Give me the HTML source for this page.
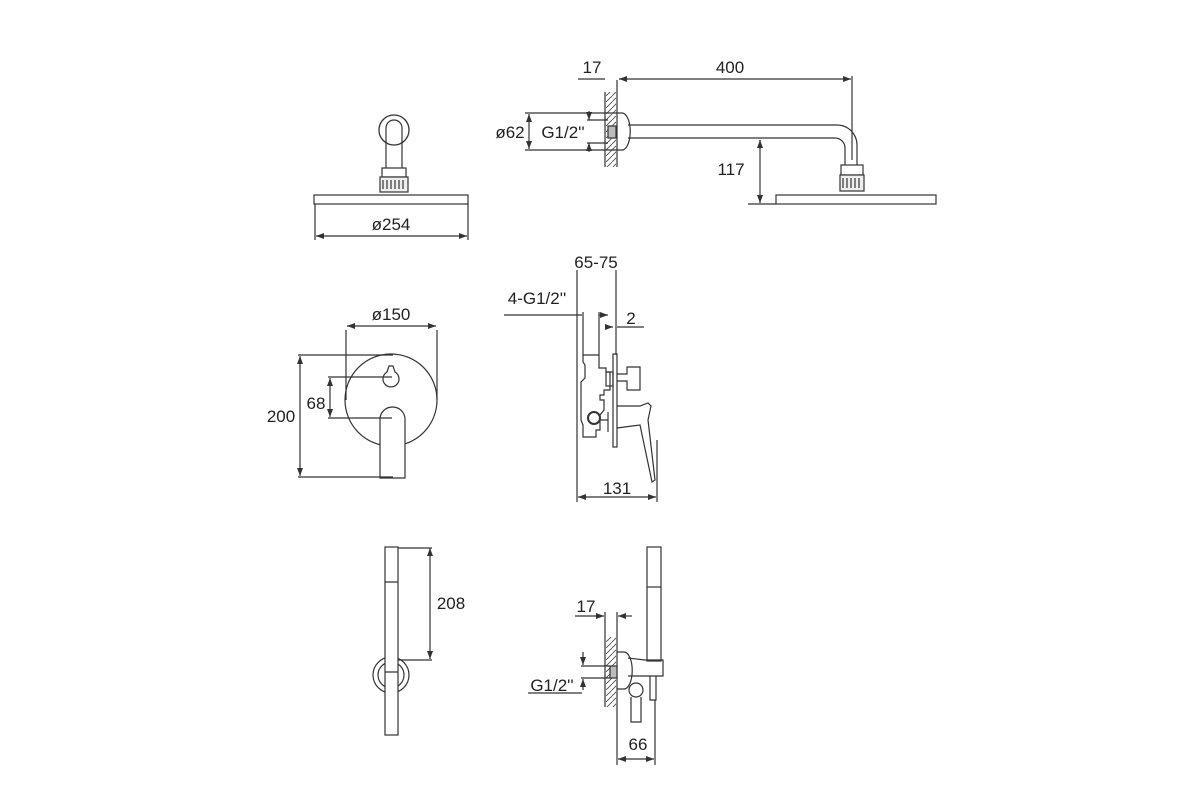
<!DOCTYPE html>
<html><head><meta charset="utf-8"><style>
html,body{margin:0;padding:0;background:#fff}
svg{display:block}
text{font-family:"Liberation Sans",sans-serif;font-size:17px;fill:#222}
</style></head><body>
<svg width="1200" height="800" viewBox="0 0 1200 800" xmlns="http://www.w3.org/2000/svg">
<defs>
<marker id="a" markerWidth="8" markerHeight="6" refX="8" refY="3" orient="auto-start-reverse" markerUnits="userSpaceOnUse"><path d="M0,0 L8,3 L0,6 z" fill="#333"/></marker>
<pattern id="h" width="6" height="6" patternUnits="userSpaceOnUse"><path d="M0,6 L6,0" stroke="#444" stroke-width="0.8"/></pattern>
</defs>
<g fill="none" stroke="#333" stroke-width="1.2">
<!-- top-left shower head -->
<circle cx="394" cy="130" r="15" stroke-width="1.3"/>
<path d="M386,168 V128 a8,8 0 0 1 16,0 V168"/>
<rect x="382" y="168" width="24" height="9"/>
<rect x="380" y="177" width="28" height="15" fill="#eee"/>
<path d="M383,180 v9 M387,180 v9 M391,180 v9 M395,180 v9 M399,180 v9 M403,180 v9"/>
<rect x="314" y="195" width="154" height="9"/>
<path d="M315,204 V240 M468,204 V240"/>
<line x1="316" y1="236" x2="467" y2="236" marker-start="url(#a)" marker-end="url(#a)"/>
<!-- top-right arm -->
<rect x="606" y="92" width="10" height="75" fill="url(#h)" stroke="none"/>
<path d="M617,80 V167 M605,92 V167"/>
<path d="M617,113 H622 a8,18 0 0 1 0,37 H617"/>
<path d="M628,125 H837 a20,20 0 0 1 20,20 V165 M628,138 H835 a10,10 0 0 1 10,10 V165"/>
<rect x="841" y="165" width="22" height="10"/>
<rect x="840" y="175" width="24" height="16" fill="#eee"/>
<path d="M843,178 v10 M847,178 v10 M851,178 v10 M855,178 v10 M859,178 v10"/>
<rect x="776" y="195" width="160" height="9"/>
<path d="M852,76 V160"/>
<line x1="578" y1="79" x2="605" y2="79"/>
<line x1="619" y1="79" x2="851" y2="79" marker-start="url(#a)" marker-end="url(#a)"/>
<line x1="760" y1="140" x2="760" y2="203" marker-start="url(#a)" marker-end="url(#a)"/>
<path d="M748,204 H776"/>
<rect x="608" y="126" width="8" height="12" fill="#bbb"/>
<path d="M525,113 H617 M525,150 H617 M587,120 H608 M587,143 H608"/>
<line x1="529" y1="114" x2="529" y2="149" marker-start="url(#a)" marker-end="url(#a)"/>
<line x1="589" y1="111" x2="589" y2="120" marker-end="url(#a)"/>
<line x1="589" y1="152" x2="589" y2="143" marker-end="url(#a)"/>
<!-- middle left valve -->
<circle cx="391" cy="400" r="46"/>
<path d="M387,372 a8,8 0 1 0 8,0 L393,366 L389,366 Z"/>
<path d="M380,478 V419 a12.5,12 0 0 1 25,0 V478 Z" fill="#fff"/>
<path d="M346,330 V400 M437,330 V400 M298,355 H393 M298,477 H393 M328,377 H392 M328,418 H392"/>
<line x1="347" y1="326" x2="436" y2="326" marker-start="url(#a)" marker-end="url(#a)"/>
<line x1="300" y1="356" x2="300" y2="476" marker-start="url(#a)" marker-end="url(#a)"/>
<line x1="330" y1="378" x2="330" y2="417" marker-start="url(#a)" marker-end="url(#a)"/>
<!-- middle right valve side -->
<path d="M577,270 V502 M616,270 V355 M657,440 V502 M583,312 V355 M599,312 V355"/>
<line x1="504" y1="315" x2="582" y2="315"/>
<line x1="599" y1="315" x2="608" y2="315" marker-end="url(#a)"/>
<line x1="606" y1="327" x2="613" y2="327" marker-end="url(#a)"/>
<line x1="617" y1="327" x2="644" y2="327"/>
<line x1="578" y1="497" x2="656" y2="497" marker-start="url(#a)" marker-end="url(#a)"/>
<path d="M583,355 H599 V368 H606 V372 H610 V390 H604 V395 H600 V400 H604 V410 L600,415 V430 H596 V437 H583 V425 L581,420 V382 L585,378 V365 L583,362 Z"/>
<rect x="613" y="354" width="4" height="93"/>
<rect x="606" y="372" width="7" height="14"/>
<path d="M617,374 H627 V367 H640 V390 H627 V381 H617"/>
<circle cx="594" cy="418" r="6" stroke-width="2"/>
<path d="M600,420 H608 M617,406 H640 L648,403 L651,406 L648,420 L655,480 L652,482 L640,425 L617,428"/>
<path d="M608,412 V432"/>
<!-- bottom left hand shower -->
<circle cx="391" cy="675" r="18"/>
<circle cx="391" cy="675" r="13"/>
<rect x="385" y="547" width="13" height="188" fill="#fff"/>
<path d="M385,582 H398 M385,672 H398"/>
<path d="M398,660 H432"/>
<line x1="430" y1="548" x2="430" y2="659" marker-start="url(#a)" marker-end="url(#a)"/>
<path d="M398,548 H432"/>
<!-- bottom right holder -->
<rect x="606" y="637" width="10" height="70" fill="url(#h)" stroke="none"/>
<path d="M605,612 V707 M617,612 V765 M655,700 V765"/>
<rect x="647" y="547" width="14" height="114"/>
<path d="M647,587 H661"/>
<path d="M617,652 H624 a8,18 0 0 1 0,37 H617"/>
<path d="M628,658 L645,660 H663 V676 H628"/>
<circle cx="636" cy="690" r="7"/>
<path d="M631,697 V722 H641 V697 M650,676 V700 H656 V676"/>
<rect x="610" y="666" width="7" height="12" fill="#bbb"/>
<path d="M581,666 H610 M581,678 H610 M528,693 H582"/>
<line x1="583" y1="652" x2="583" y2="665" marker-end="url(#a)"/>
<line x1="583" y1="690" x2="583" y2="679" marker-end="url(#a)"/>
<line x1="575" y1="616" x2="604" y2="616" marker-end="url(#a)"/>
<line x1="632" y1="616" x2="618" y2="616" marker-end="url(#a)"/>
<line x1="618" y1="759" x2="654" y2="759" marker-start="url(#a)" marker-end="url(#a)"/>
</g>
<text x="391" y="230" text-anchor="middle">ø254</text>
<text x="592" y="73" text-anchor="middle">17</text>
<text x="730" y="73" text-anchor="middle">400</text>
<text x="510" y="138" text-anchor="middle">ø62</text>
<text x="563" y="138" text-anchor="middle">G1/2''</text>
<text x="731" y="175" text-anchor="middle">117</text>
<text x="391" y="320" text-anchor="middle">ø150</text>
<text x="281" y="422" text-anchor="middle">200</text>
<text x="316" y="409" text-anchor="middle">68</text>
<text x="596" y="268" text-anchor="middle">65-75</text>
<text x="537" y="304" text-anchor="middle">4-G1/2''</text>
<text x="631" y="324" text-anchor="middle">2</text>
<text x="617" y="494" text-anchor="middle">131</text>
<text x="451" y="609" text-anchor="middle">208</text>
<text x="586" y="612" text-anchor="middle">17</text>
<text x="552" y="691" text-anchor="middle">G1/2''</text>
<text x="638" y="750" text-anchor="middle">66</text>
</svg>
</body></html>
